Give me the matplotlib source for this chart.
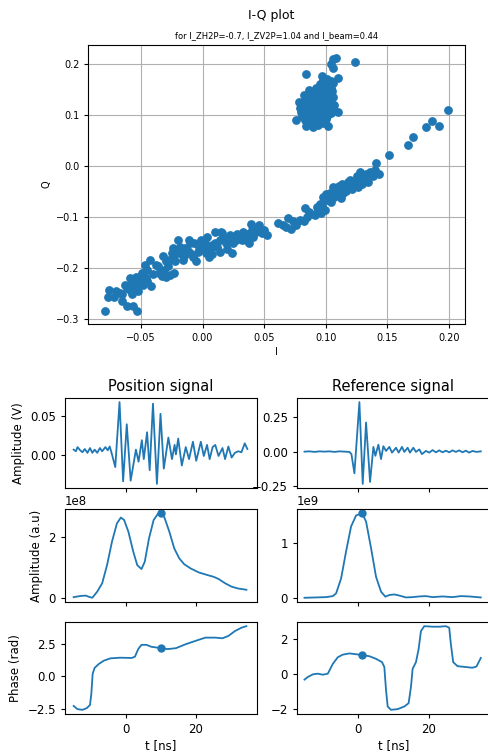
'''I-Q scatter plus position / reference signal panels'''

import numpy as np
import matplotlib
matplotlib.use('Agg')
import matplotlib.pyplot as plt

# --- I-Q scatter: the cluster near (0.09, 0.12)
iq_cluster_i = [0.106, 0.108, 0.124, 0.084, 0.104, 0.106, 0.110, 0.110, 0.076, 0.084, 0.090, 0.102,
                0.098, 0.101, 0.104, 0.095, 0.099, 0.103, 0.106, 0.092, 0.096, 0.100, 0.104,
                0.089, 0.093, 0.097, 0.101, 0.105, 0.086, 0.090, 0.094, 0.098, 0.102, 0.106,
                0.083, 0.087, 0.091, 0.095, 0.099, 0.103, 0.080, 0.084, 0.088, 0.092, 0.096,
                0.100, 0.104, 0.107, 0.079, 0.083, 0.087, 0.091, 0.095, 0.099, 0.103, 0.106,
                0.080, 0.084, 0.088, 0.092, 0.096, 0.100, 0.104, 0.081, 0.085, 0.089, 0.093,
                0.097, 0.101, 0.083, 0.087, 0.091, 0.095, 0.099, 0.088, 0.094, 0.098, 0.078,
                0.082, 0.097, 0.090, 0.086, 0.100, 0.093]
iq_cluster_q = [0.210, 0.213, 0.205, 0.182, 0.200, 0.193, 0.174, 0.107, 0.090, 0.080, 0.077, 0.080,
                0.170, 0.172, 0.168, 0.161, 0.163, 0.160, 0.164, 0.154, 0.152, 0.156, 0.153,
                0.146, 0.144, 0.147, 0.145, 0.148, 0.138, 0.136, 0.139, 0.137, 0.140, 0.136,
                0.130, 0.128, 0.131, 0.129, 0.132, 0.130, 0.122, 0.124, 0.121, 0.123, 0.120,
                0.122, 0.124, 0.121, 0.114, 0.116, 0.113, 0.115, 0.112, 0.116, 0.114, 0.113,
                0.106, 0.104, 0.107, 0.105, 0.108, 0.106, 0.104, 0.098, 0.096, 0.099, 0.097,
                0.100, 0.098, 0.090, 0.092, 0.089, 0.091, 0.088, 0.083, 0.082, 0.085, 0.126,
                0.140, 0.178, 0.118, 0.150, 0.093, 0.133]

# --- I-Q scatter: the elongated band
iq_band_i = [-0.079, -0.077, -0.053, -0.056, -0.061, -0.065, -0.076, -0.072, -0.067, -0.065, -0.061,
             -0.059, -0.057, -0.054, -0.059, -0.054, -0.052, -0.048, -0.042, -0.046, -0.049, -0.045,
             -0.047, -0.043, -0.038, -0.035, -0.031, -0.030, -0.026, -0.023, -0.027, -0.030, -0.024,
             -0.023, -0.020, -0.019, -0.016, -0.014, -0.011, -0.010, -0.007, -0.005, -0.003, -0.001,
             0.005, 0.003, 0.008, 0.010, 0.014, 0.016, 0.014, 0.019, 0.022, 0.024, 0.027, 0.030,
             0.033, 0.035, 0.039, 0.043, 0.046, 0.050, 0.052, 0.041, 0.038,
             0.061, 0.065, 0.068, 0.072, 0.069, 0.073, 0.076, 0.079, 0.082, 0.083, 0.086, 0.091,
             0.094, 0.095, 0.096, 0.098, 0.101, 0.103, 0.106, 0.107, 0.110, 0.113, 0.114, 0.117,
             0.120, 0.122, 0.125, 0.126, 0.128, 0.130, 0.133, 0.136, 0.140, 0.141, 0.143,
             0.151, 0.167, 0.171, 0.181, 0.186, 0.192, 0.199,
             -0.018, -0.012, -0.008, -0.004, 0.000, 0.002, 0.006, 0.010, 0.012, 0.017, 0.020,
             0.025, 0.028, 0.032, 0.036, 0.040, 0.044, 0.048, -0.028, -0.022, -0.015, -0.010,
             0.015, 0.023, -0.025, -0.032, 0.004, 0.008,
             0.097, 0.100, 0.104, 0.108, 0.112, 0.116, 0.118, 0.121, 0.124, 0.127, 0.129, 0.132,
             0.134, 0.138, 0.111, 0.103, 0.099, 0.093, 0.088, 0.085,
             -0.070, -0.063, -0.057, -0.052, -0.050, -0.045, -0.040, -0.036, -0.033]
iq_band_q = [-0.284, -0.256, -0.284, -0.274, -0.274, -0.264, -0.242, -0.255, -0.248, -0.251, -0.238,
             -0.242, -0.251, -0.235, -0.219, -0.217, -0.225, -0.232, -0.235, -0.219, -0.209, -0.203,
             -0.193, -0.183, -0.193, -0.209, -0.203, -0.216, -0.212, -0.209, -0.183, -0.186, -0.160,
             -0.173, -0.144, -0.170, -0.183, -0.160, -0.144, -0.170, -0.151, -0.186, -0.157, -0.144,
             -0.177, -0.170, -0.154, -0.128, -0.144, -0.131, -0.167, -0.151, -0.134, -0.170, -0.144,
             -0.138, -0.128, -0.144, -0.112, -0.128, -0.115, -0.125, -0.134, -0.138, -0.151,
             -0.110, -0.115, -0.118, -0.123, -0.102, -0.108, -0.115, -0.105, -0.108, -0.082, -0.089,
             -0.095, -0.086, -0.073, -0.092, -0.060, -0.066, -0.053, -0.040, -0.060, -0.050, -0.034,
             -0.053, -0.040, -0.027, -0.037, -0.018, -0.040, -0.011, -0.021, -0.014, -0.011, -0.008,
             0.006, -0.014,
             0.023, 0.042, 0.057, 0.077, 0.088, 0.079, 0.111,
             -0.158, -0.165, -0.178, -0.168, -0.160, -0.150, -0.163, -0.150, -0.158, -0.140, -0.162,
             -0.150, -0.132, -0.145, -0.132, -0.125, -0.118, -0.130, -0.195, -0.185, -0.175, -0.150,
             -0.128, -0.138, -0.170, -0.175, -0.138, -0.172,
             -0.078, -0.055, -0.070, -0.045, -0.062, -0.048, -0.030, -0.045, -0.028, -0.025, -0.035,
             -0.020, -0.030, -0.018, -0.038, -0.062, -0.085, -0.080, -0.093, -0.100,
             -0.245, -0.232, -0.228, -0.245, -0.215, -0.225, -0.210, -0.195, -0.215]

# --- Position signal (V) vs time (ns)
pos_sig_t = [-15.02, -14.37, -13.90, -13.15, -12.49, -11.83, -11.08, -10.33, -9.67, -9.01, -8.26,
             -7.51, -6.85, -5.92, -5.26, -4.69, -4.04, -3.10, -1.88, -0.85, 0.19, 1.31, 2.82,
             3.57, 4.51, 5.07, 6.01, 6.76, 7.70, 8.83, 9.86, 10.80, 12.11, 13.15, 13.90, 14.27,
             14.93, 15.96, 17.09, 18.03, 19.15, 20.09, 21.41, 22.25, 23.19, 23.94, 24.79, 25.54,
             26.48, 27.61, 28.36, 29.30, 30.23, 31.17, 32.11, 33.05, 33.99, 34.74]
pos_sig_v = [0.0069, 0.0048, 0.0101, 0.0060, 0.0036, 0.0077, 0.0028, 0.0089, 0.0028, 0.0069, 0.0028,
             0.0089, 0.0048, 0.0101, 0.0060, 0.0109, 0.0008, -0.0153, 0.0673, -0.0334, 0.0391,
             -0.0326, 0.0069, -0.0085, 0.0189, -0.0052, 0.0290, -0.0193, 0.0653, -0.0367, 0.0524,
             -0.0173, 0.0222, -0.0052, 0.0129, 0.0008, 0.0210, -0.0133, 0.0101, -0.0052, 0.0169,
             -0.0073, 0.0169, -0.0012, 0.0129, -0.0052, 0.0101, 0.0129, -0.0012, 0.0089, -0.0052,
             0.0109, -0.0032, 0.0028, 0.0048, 0.0036, 0.0149, 0.0077]

# --- Reference signal (V)
ref_sig_t = [-15.36, -13.93, -12.51, -11.09, -9.67, -8.25, -6.82, -5.40, -3.98, -2.56, -1.99, -1.14,
             0.28, 1.23, 2.18, 3.32, 4.27, 4.83, 5.69, 6.45, 7.11, 7.87, 8.82, 9.57, 10.71, 11.47,
             12.42, 13.08, 14.03, 14.69, 15.64, 16.40, 17.35, 18.10, 19.24, 20.19, 21.14, 22.09,
             23.03, 23.98, 24.93, 25.88, 26.82, 27.77, 28.72, 29.67, 30.62, 31.56, 32.51, 33.65,
             34.88]
ref_sig_v = [0.0, 0.002, -0.002, 0.002, 0.0, 0.002, -0.002, 0.002, 0.0, -0.002, -0.018, -0.156,
             0.356, -0.232, 0.209, -0.218, 0.034, -0.030, 0.050, -0.053, 0.039, 0.005, 0.034,
             -0.007, 0.028, -0.007, 0.034, -0.002, 0.028, -0.007, 0.028, -0.002, 0.016, -0.018,
             0.005, -0.007, 0.011, -0.005, 0.009, -0.005, 0.007, -0.005, 0.009, -0.002, 0.009,
             -0.005, 0.007, -0.007, 0.005, -0.002, 0.002]

# --- Envelope amplitude (a.u.)
pos_amp_t = [-15.02, -12.96, -11.55, -10.61, -9.67, -8.26, -6.85, -5.45, -4.04, -2.63, -1.50, -0.56,
             0.66, 2.07, 3.19, 4.41, 5.35, 6.57, 7.89, 9.11, 10.05, 10.99, 12.39, 13.80, 15.21,
             16.62, 18.50, 20.85, 23.19, 25.07, 26.48, 28.36, 30.23, 32.11, 34.46]
pos_amp = [0.04, 0.08, 0.09, 0.05, 0.02, 0.22, 0.49, 1.08, 1.84, 2.43, 2.62, 2.54, 2.16, 1.51,
           1.08, 0.95, 1.19, 1.95, 2.54, 2.74, 2.76, 2.62, 2.16, 1.62, 1.30, 1.11, 0.97, 0.84,
           0.76, 0.70, 0.63, 0.49, 0.38, 0.32, 0.28]  # x 1e8
ref_amp_t = [-15.36, -12.04, -9.19, -7.30, -6.35, -4.93, -3.51, -2.09, -0.66, 1.04, 2.18, 3.60,
             5.02, 6.45, 7.68, 8.82, 10.24, 11.66, 13.55, 15.45, 17.35, 19.24, 21.14, 23.98,
             26.82, 29.19, 31.56, 34.88]
ref_amp = [0.0, 0.006, 0.012, 0.03, 0.08, 0.35, 0.84, 1.29, 1.49, 1.53, 1.38, 0.90, 0.38, 0.11,
           0.02, 0.05, 0.06, 0.04, 0.006, 0.012, 0.024, 0.03, 0.012, 0.024, 0.012, 0.03, 0.024,
           0.006]  # x 1e9

# --- Phase (rad)
pos_ph_t = [-15.02, -13.90, -12.49, -11.27, -10.33, -9.95, -9.58, -9.01, -7.79, -6.38, -4.51, -1.69,
            1.60, 2.54, 3.47, 4.41, 5.82, 7.23, 10.05, 11.92, 14.27, 17.09, 19.91, 22.72, 25.54,
            27.61, 29.30, 31.17, 33.05, 34.46]
pos_ph = [-2.30, -2.55, -2.60, -2.47, -2.22, -1.33, 0.20, 0.66, 0.97, 1.22, 1.40, 1.45, 1.43, 1.53,
          2.12, 2.45, 2.45, 2.30, 2.19, 2.12, 2.19, 2.50, 2.76, 3.01, 3.01, 2.96, 3.14, 3.52,
          3.78, 3.90]
ref_ph_t = [-15.36, -14.41, -12.99, -11.56, -10.14, -8.72, -7.30, -5.88, -4.45, -2.56, 1.04, 3.13,
            5.02, 6.73, 7.39, 7.87, 8.34, 9.29, 11.18, 13.08, 14.31, 14.98, 15.45, 16.40, 17.16,
            17.82, 18.77, 21.14, 23.03, 24.93, 25.88, 26.35, 27.01, 28.25, 30.62, 32.51, 33.65,
            34.88]
ref_ph = [-0.34, -0.19, -0.04, 0.00, -0.06, 0.00, 0.56, 0.94, 1.09, 1.16, 1.07, 1.00, 0.85, 0.66,
          0.38, -0.94, -1.88, -2.07, -2.03, -1.88, -1.69, -0.75, 0.28, 0.66, 1.41, 2.44, 2.72,
          2.69, 2.69, 2.72, 2.63, 1.69, 0.66, 0.43, 0.38, 0.34, 0.41, 0.90]

subtitle = 'for I_ZH2P=-0.7, I_ZV2P=1.04 and I_beam=0.44'
W, H = 488, 752
C = '#1f77b4'


def box(left, top, right, bottom):
    '''pixel box -> figure fraction rect'''
    return [left / W, 1 - bottom / H, (right - left) / W, (bottom - top) / H]


fig = plt.figure(figsize=(W / 100, H / 100), dpi=100)

# ---------- top: I-Q plot
ax = fig.add_axes(box(88, 45, 465, 324))
ax.scatter(iq_cluster_i + iq_band_i, iq_cluster_q + iq_band_q, s=28, color=C, zorder=3)
ax.grid(True, color='#b0b0b0', lw=0.8)
ax.set_axisbelow(True)
ax.set_xticks([-0.05, 0.0, 0.05, 0.10, 0.15, 0.20])
ax.set_yticks([-0.3, -0.2, -0.1, 0.0, 0.1, 0.2])
ax.tick_params(labelsize=7, length=2.7)
ax.set_xlabel('I', fontsize=7, labelpad=3)
ax.set_ylabel('Q', fontsize=7, labelpad=3)
ax.set_title(subtitle, fontsize=6, pad=5)
fig.text(271 / W, 1 - 15 / H, 'I-Q plot', fontsize=9, ha='center', va='center')

# ---------- bottom: 3x2 signal panels
xl, xr = 65, 257
rl, rr = 297, 490   # right column runs slightly past the canvas edge
rows = [(398, 488), (509, 602), (622, 714)]

axs = [[fig.add_axes(box(xl, t, xr, b)), fig.add_axes(box(rl, t, rr, b))] for t, b in rows]

axs[0][0].plot(pos_sig_t, pos_sig_v, color=C, lw=1.3)
axs[0][1].plot(ref_sig_t, ref_sig_v, color=C, lw=1.3)
axs[1][0].plot(pos_amp_t, np.array(pos_amp) * 1e8, color=C, lw=1.3)
axs[1][1].plot(ref_amp_t, np.array(ref_amp) * 1e9, color=C, lw=1.3)
axs[2][0].plot(pos_ph_t, pos_ph, color=C, lw=1.3)
axs[2][1].plot(ref_ph_t, ref_ph, color=C, lw=1.3)

# mark the envelope maximum and the phase at that time
for col, (at, a, scale, pt, p) in enumerate([(pos_amp_t, pos_amp, 1e8, pos_ph_t, pos_ph),
                                              (ref_amp_t, ref_amp, 1e9, ref_ph_t, ref_ph)]):
    k = int(np.argmax(a))
    axs[1][col].plot(at[k], a[k] * scale, 'o', color=C, ms=5)
    j = int(np.argmin(np.abs(np.array(pt) - at[k])))
    axs[2][col].plot(pt[j], p[j], 'o', color=C, ms=5)

axs[0][0].set_title('Position signal', fontsize=10.5, pad=5)
axs[0][1].set_title('Reference signal', fontsize=10.5, pad=5)
axs[0][0].set_ylabel('Amplitude (V)', fontsize=8.5)
axs[1][0].set_ylabel('Amplitude (a.u)', fontsize=8.5)
axs[2][0].set_ylabel('Phase (rad)', fontsize=8.5)

axs[0][0].set_yticks([0.0, 0.05])
axs[0][1].set_yticks([-0.25, 0.0, 0.25])
axs[1][0].set_yticks([0, 2e8])
axs[1][1].set_yticks([0, 1e9])
axs[2][0].set_yticks([-2.5, 0.0, 2.5])
axs[2][1].set_yticks([-2, 0, 2])

for r, pair in enumerate(axs):
    for a in pair:
        a.set_xlim(-17.5, 37.5)
        a.set_xticks([0, 20])
        a.tick_params(labelsize=8.5, length=3)
        a.yaxis.get_offset_text().set_fontsize(8.5)
        if r < 2:
            a.tick_params(labelbottom=False)
        else:
            a.set_xlabel('t [ns]', fontsize=8.5, labelpad=2)

fig.savefig('out.png', dpi=100)
